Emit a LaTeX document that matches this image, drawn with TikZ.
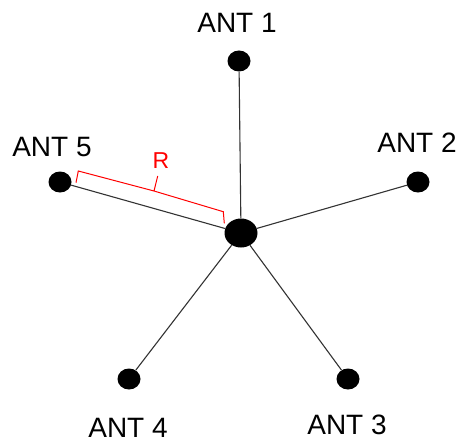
\documentclass[tikz,border=0pt]{standalone}
\usepackage{fontspec}
\setmainfont{Liberation Sans}
\usetikzlibrary{shapes.geometric}
\begin{document}
\begin{tikzpicture}[x=1pt,y=-1pt,
  ant/.style={fill=black,draw=none,ellipse,minimum width=23pt,minimum height=21pt,inner sep=0pt},
  hub/.style={fill=black,draw=none,ellipse,minimum width=33pt,minimum height=29pt,inner sep=0pt},
  lbl/.style={anchor=base,inner sep=0pt,font=\fontsize{28}{33}\selectfont},
  link/.style={draw=black!80,line width=1.1pt}]
\useasboundingbox (0,0) rectangle (458,444);
\node[hub] (c) at (241,233) {};
\node[ant] (a1) at (239,61) {};
\node[ant] (a2) at (418,182) {};
\node[ant] (a3) at (348,379) {};
\node[ant] (a4) at (129,379) {};
\node[ant] (a5) at (60,182) {};
\foreach \n in {a1,a2,a3,a4,a5} \draw[link] (c) -- (\n);
\node[lbl] (t1) at (237,33) {ANT 1};
\node[lbl] (t2) at (417,152) {ANT 2};
\node[lbl] (t3) at (347,434) {ANT 3};
\node[lbl] (t4) at (128,437) {ANT 4};
\node[lbl] (t5) at (52,156) {ANT 5};
\draw[red,line width=1pt] (76,182.7) -- (78.3,171) -- (154,191) -- (157.7,176) (154,191) -- (223.3,211.7) -- (224.3,223.3);
\node[anchor=base,inner sep=0pt,text=red,font=\fontsize{23}{27}\selectfont] (r) at (161,168) {R};
\end{tikzpicture}
\end{document}
